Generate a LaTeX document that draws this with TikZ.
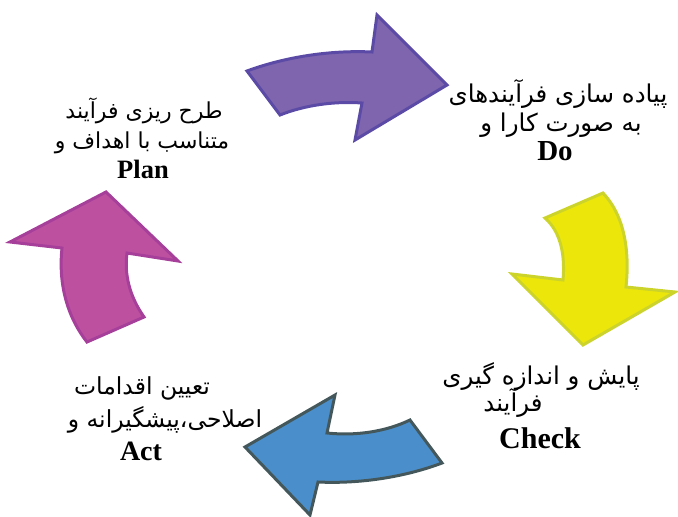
\documentclass[tikz,border=0pt]{standalone}
\usepackage{fontspec}
\TeXXeTstate=1
\newfontfamily\farsifont[Script=Arabic]{DejaVu Sans}
\newfontfamily\latinbold{Liberation Serif}
\newcommand\prs[1]{{\farsifont\beginR #1\endR}}
\definecolor{plumfill}{HTML}{7E65AE}
\definecolor{plumline}{HTML}{5C4BA6}
\definecolor{lemonfill}{HTML}{ECE60B}
\definecolor{lemonline}{HTML}{CCD42C}
\definecolor{skyfill}{HTML}{4A8FCB}
\definecolor{skyline}{HTML}{44585C}
\definecolor{rosefill}{HTML}{BE50A0}
\definecolor{roseline}{HTML}{A63F9A}
\tikzset{
  bend arrow/.style={line width=3pt, line join=miter},
  fa line/.style={font=\fontsize{#1}{#1}\selectfont, inner sep=0pt},
  en line/.style={font=\fontsize{#1}{#1}\selectfont\latinbold\bfseries, inner sep=0pt},
}
\begin{document}
\begin{tikzpicture}[x=1pt, y=-1pt]
\useasboundingbox (0,0) rectangle (678,517);

% Plan -> Do
\filldraw[bend arrow, fill=plumfill, draw=plumline]
  (247,71) .. controls (285,57) and (330,50) .. (372,52) -- (377,15) -- (447,85)
  -- (355,140) -- (362,103) .. controls (335,101) and (305,105) .. (280,115) -- cycle;

% Do -> Check
\filldraw[bend arrow, fill=lemonfill, draw=lemonline]
  (545,218) -- (603,193) .. controls (624,215) and (630,250) .. (626,287) -- (675,292)
  -- (583,345) -- (512,274) -- (563,280) .. controls (565,258) and (562,233) .. (545,218) -- cycle;

% Check -> Act
\filldraw[bend arrow, fill=skyfill, draw=skyline]
  (410,420) .. controls (385,432) and (355,436) .. (327,433) -- (335,395) -- (245,447)
  -- (310,515) -- (318,482) .. controls (360,484) and (405,477) .. (442,463) -- cycle;

% Act -> Plan
\filldraw[bend arrow, fill=rosefill, draw=roseline]
  (87,342) -- (144,317) .. controls (130,297) and (124,275) .. (127,253) -- (178,261)
  -- (106,192) -- (10,242) -- (62,248) .. controls (58,285) and (68,318) .. (87,342) -- cycle;

% Labels
\node[fa line=22] (plan1) at (144,111) {\prs{طرح ریزی فرآیند}};
\node[fa line=22] (plan2) at (142,143) {\prs{متناسب با اهداف و}};
\node[en line=26.5] (plan3) at (143,169) {Plan};

\node[fa line=24.5] (do1) at (558,94) {\prs{پیاده سازی فرآیندهای}};
\node[fa line=24.5] (do2) at (561,125) {\prs{به صورت کارا و}};
\node[en line=29] (do3) at (555,151) {Do};

\node[fa line=24.5] (check1) at (541,377) {\prs{پایش و اندازه گیری}};
\node[fa line=24.5] (check2) at (513,403) {\prs{فرآیند}};
\node[en line=30] (check3) at (540,438) {Check};

\node[fa line=23.5] (act1) at (142,388) {\prs{تعیین اقدامات}};
\node[fa line=23.5] (act2) at (165,420) {\prs{اصلاحی،پیشگیرانه و}};
\node[en line=28] (act3) at (141,451) {Act};
\end{tikzpicture}
\end{document}
